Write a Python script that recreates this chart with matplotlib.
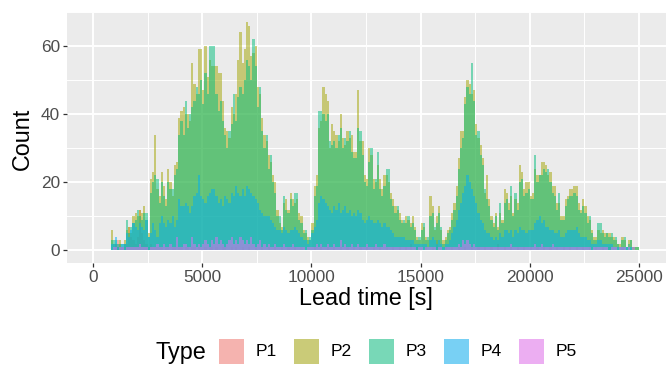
import matplotlib
matplotlib.use("Agg")
import matplotlib.pyplot as plt
import numpy as np
from matplotlib.patches import Rectangle
from matplotlib.ticker import MultipleLocator

plt.rcParams['font.family'] = ['Liberation Sans', 'DejaVu Sans']

# Histogram counts per 100 s bin (0 .. 25000 s), one row per 1000 s
bin_width = 100
types = ["P1", "P2", "P3", "P4", "P5"]
colors = ["#F8766D", "#A3A500", "#00BF7D", "#00B0F6", "#E76BF3"]

p1 = [0, 0, 0, 0, 0, 0, 0, 0, 0, 0,
      2, 3, 2, 1, 2, 2, 7, 4, 3, 2,
      4, 12, 5, 3, 2, 1, 2, 1, 1, 1,
      1, 1, 0, 1, 1, 0, 1, 1, 0, 1,
      1, 0, 1, 1, 0, 1, 1, 0, 1, 0,
      0, 1, 0, 1, 1, 0, 1, 0, 0, 1,
      1, 0, 0, 1, 0, 1, 0, 0, 1, 0,
      0, 1, 0, 0, 1, 0, 0, 1, 0, 0,
      1, 0, 0, 1, 0, 0, 1, 0, 0, 1,
      0, 0, 1, 0, 0, 1, 0, 0, 0, 0,
      0, 1, 0, 0, 1, 0, 0, 1, 0, 0,
      1, 0, 0, 1, 0, 0, 1, 0, 0, 1,
      0, 0, 1, 0, 0, 1, 0, 0, 1, 0,
      0, 1, 0, 0, 1, 0, 0, 1, 0, 0,
      1, 0, 0, 1, 0, 2, 0, 0, 1, 0,
      0, 0, 1, 0, 0, 1, 0, 3, 0, 0,
      0, 1, 0, 0, 1, 0, 0, 1, 0, 0,
      1, 0, 0, 1, 0, 0, 1, 0, 0, 1,
      0, 0, 1, 0, 0, 2, 0, 0, 1, 0,
      0, 1, 0, 0, 1, 0, 0, 1, 0, 0,
      1, 0, 0, 1, 0, 0, 1, 0, 0, 1,
      0, 0, 1, 0, 0, 1, 0, 0, 1, 0,
      0, 1, 0, 0, 1, 0, 0, 1, 0, 0,
      1, 0, 0, 1, 0, 0, 1, 0, 0, 0,
      0, 0, 1, 0, 0, 0, 0, 0, 0, 0]

p2 = [0, 0, 0, 0, 0, 0, 0, 0, 6, 2,
      2, 2, 3, 1, 3, 6, 7, 5, 10, 11,
      10, 12, 11, 13, 9, 5, 21, 23, 34, 18,
      16, 23, 19, 15, 24, 20, 16, 25, 26, 39,
      41, 42, 40, 40, 38, 55, 49, 46, 59, 59,
      47, 60, 51, 56, 54, 54, 54, 52, 52, 44,
      36, 35, 33, 42, 40, 46, 56, 64, 55, 59,
      67, 66, 57, 58, 60, 48, 46, 39, 34, 32,
      28, 26, 22, 20, 12, 8, 7, 14, 15, 12,
      17, 15, 14, 15, 11, 10, 6, 5, 4, 3,
      8, 19, 22, 36, 38, 48, 46, 44, 30, 37,
      35, 34, 32, 40, 33, 31, 35, 33, 34, 29,
      29, 47, 32, 32, 22, 21, 30, 28, 21, 20,
      25, 21, 18, 22, 22, 20, 17, 15, 13, 12,
      11, 9, 8, 10, 9, 8, 10, 7, 4, 3,
      8, 7, 4, 3, 16, 13, 6, 10, 13, 6,
      3, 4, 6, 7, 11, 14, 19, 27, 35, 35,
      45, 50, 49, 46, 47, 37, 33, 31, 27, 17,
      22, 15, 10, 8, 11, 7, 11, 9, 18, 17,
      14, 16, 11, 15, 14, 25, 23, 18, 20, 20,
      16, 17, 24, 22, 22, 26, 26, 25, 22, 23,
      19, 19, 14, 14, 10, 10, 15, 16, 18, 18,
      19, 19, 14, 12, 15, 13, 10, 9, 6, 4,
      4, 6, 5, 6, 5, 5, 5, 4, 4, 3,
      2, 2, 4, 3, 1, 3, 3, 1, 1, 1]

p3 = [0, 0, 0, 0, 0, 0, 0, 0, 3, 3,
      3, 1, 2, 2, 2, 9, 5, 7, 8, 9,
      12, 10, 9, 11, 11, 4, 17, 20, 22, 21,
      14, 20, 16, 13, 20, 18, 18, 22, 24, 34,
      38, 34, 44, 36, 40, 42, 44, 48, 46, 50,
      43, 52, 46, 60, 60, 60, 46, 41, 44, 38,
      34, 30, 35, 37, 46, 38, 45, 48, 46, 50,
      56, 54, 50, 62, 54, 42, 48, 35, 30, 34,
      24, 28, 20, 17, 10, 10, 6, 16, 12, 11,
      15, 13, 17, 17, 9, 8, 5, 6, 3, 4,
      6, 16, 19, 41, 41, 40, 38, 40, 32, 31,
      32, 30, 34, 36, 30, 33, 32, 35, 29, 27,
      27, 36, 35, 28, 20, 19, 26, 30, 18, 21,
      29, 18, 16, 19, 24, 24, 15, 13, 11, 13,
      9, 8, 9, 8, 10, 7, 8, 6, 3, 4,
      6, 8, 3, 4, 10, 11, 7, 8, 11, 7,
      2, 3, 5, 6, 9, 12, 16, 24, 30, 33,
      43, 48, 46, 55, 44, 34, 35, 28, 25, 18,
      15, 13, 9, 7, 10, 6, 14, 8, 14, 15,
      12, 19, 10, 17, 12, 20, 21, 16, 17, 18,
      15, 15, 28, 20, 22, 22, 24, 23, 24, 20,
      17, 16, 12, 17, 9, 9, 13, 15, 16, 16,
      17, 16, 12, 11, 13, 11, 8, 10, 5, 3,
      3, 8, 8, 5, 4, 5, 4, 5, 3, 4,
      2, 1, 3, 4, 1, 2, 3, 1, 1, 1]

p4 = [0, 0, 0, 0, 0, 0, 0, 0, 2, 2,
      4, 2, 1, 2, 2, 5, 4, 6, 8, 7,
      6, 8, 7, 6, 9, 4, 5, 8, 6, 4,
      8, 10, 8, 7, 9, 8, 10, 7, 9, 15,
      13, 13, 14, 13, 11, 13, 16, 17, 22, 16,
      15, 14, 16, 17, 18, 18, 16, 14, 15, 13,
      16, 15, 14, 17, 16, 19, 17, 16, 18, 16,
      19, 18, 17, 16, 15, 14, 12, 11, 10, 10,
      10, 9, 8, 7, 6, 6, 5, 7, 6, 5,
      6, 6, 7, 6, 5, 4, 3, 3, 2, 3,
      5, 7, 9, 14, 16, 15, 14, 13, 12, 11,
      13, 12, 14, 11, 12, 13, 11, 12, 10, 11,
      10, 12, 11, 9, 8, 9, 10, 9, 8, 8,
      9, 8, 7, 8, 7, 7, 6, 5, 4, 4,
      4, 4, 4, 3, 3, 3, 3, 2, 2, 2,
      2, 2, 2, 1, 3, 4, 3, 2, 3, 2,
      1, 2, 2, 3, 5, 7, 9, 12, 14, 17,
      19, 22, 20, 18, 16, 14, 11, 9, 8, 6,
      5, 5, 4, 3, 4, 3, 5, 4, 6, 6,
      5, 6, 4, 6, 5, 7, 6, 6, 5, 6,
      6, 6, 8, 9, 10, 8, 9, 7, 7, 6,
      6, 5, 5, 6, 4, 4, 5, 6, 6, 6,
      6, 7, 5, 4, 4, 4, 3, 3, 2, 2,
      2, 3, 3, 2, 2, 2, 2, 2, 1, 1,
      1, 1, 1, 1, 1, 1, 1, 0, 0, 0]

p5 = [0, 0, 0, 0, 0, 0, 0, 0, 0, 1,
      1, 0, 1, 1, 0, 1, 1, 1, 1, 1,
      1, 2, 1, 1, 1, 0, 1, 1, 1, 2,
      1, 1, 2, 1, 1, 2, 1, 1, 4, 1,
      1, 2, 2, 1, 1, 4, 2, 1, 2, 1,
      2, 3, 2, 1, 3, 2, 4, 2, 3, 2,
      1, 2, 3, 4, 2, 3, 2, 4, 3, 2,
      3, 2, 4, 2, 1, 2, 3, 1, 2, 1,
      2, 1, 1, 2, 1, 1, 1, 2, 1, 1,
      1, 2, 1, 1, 1, 1, 1, 0, 1, 1,
      1, 1, 2, 1, 2, 1, 1, 2, 1, 1,
      2, 1, 1, 3, 1, 2, 1, 1, 2, 1,
      1, 2, 1, 1, 1, 2, 1, 1, 1, 2,
      1, 1, 1, 2, 1, 1, 1, 1, 1, 1,
      1, 1, 1, 1, 1, 1, 1, 1, 0, 1,
      1, 0, 1, 1, 1, 1, 1, 0, 1, 1,
      0, 1, 1, 1, 1, 1, 1, 2, 1, 3,
      2, 3, 2, 1, 2, 1, 1, 1, 1, 1,
      1, 1, 1, 1, 1, 1, 1, 1, 1, 1,
      1, 2, 1, 1, 1, 1, 1, 1, 1, 1,
      1, 1, 2, 1, 1, 2, 1, 1, 1, 1,
      2, 1, 1, 1, 1, 1, 1, 1, 1, 1,
      1, 1, 1, 1, 1, 1, 1, 1, 0, 1,
      1, 1, 1, 1, 1, 1, 0, 1, 1, 1,
      0, 1, 1, 1, 0, 1, 0, 1, 0, 0]

series = [p1, p2, p3, p4, p5]
bin_left = np.arange(len(p1)) * bin_width

W, H = 666, 365
fig = plt.figure(figsize=(W / 100, H / 100), dpi=100)
ax = fig.add_axes([67 / W, 1 - 263 / H, (666 - 67) / W, (263 - 12) / H])
ax.set_facecolor("#EBEBEB")

# overlapping histograms, drawn in type order like ggplot position="identity"
for name, counts, c in zip(types, series, colors):
    ax.bar(bin_left + bin_width / 2, counts, width=bin_width, color=c,
           alpha=0.5, linewidth=0, zorder=2, label=name)

ax.set_xlim(-1193, 26239)
ax.set_ylim(-3.7, 70.0)
ax.xaxis.set_major_locator(MultipleLocator(5000))
ax.xaxis.set_minor_locator(MultipleLocator(2500))
ax.yaxis.set_major_locator(MultipleLocator(20))
ax.yaxis.set_minor_locator(MultipleLocator(10))
ax.grid(which="major", color="white", linewidth=1.4, zorder=0)
ax.grid(which="minor", color="white", linewidth=0.7, zorder=0)
ax.set_axisbelow(True)
for s in ax.spines.values():
    s.set_visible(False)
ax.tick_params(which="major", length=3.2, width=0.9, color="#333333",
               labelsize=12.4, labelcolor="#4D4D4D", pad=2)
ax.tick_params(which="minor", length=0)

fig.text(366 / W, 1 - 299 / H, "Lead time [s]", ha="center", va="center", fontsize=16.8)
fig.text(22 / W, 1 - 139 / H, "Count", ha="center", va="center", fontsize=16.8, rotation=90)

# legend along the bottom
fig.text(155 / W, 1 - 352 / H, "Type", ha="left", va="center", fontsize=16.8)
for i, (name, c) in enumerate(zip(types, colors)):
    x0 = 219 + 75 * i
    fig.add_artist(Rectangle((x0 / W, 1 - 364 / H), 25 / W, 25 / H,
                             transform=fig.transFigure, facecolor="#F2F2F2", edgecolor="none"))
    fig.add_artist(Rectangle((x0 / W, 1 - 364 / H), 25 / W, 25 / H,
                             transform=fig.transFigure, facecolor=c, alpha=0.5, edgecolor="none"))
    fig.text((x0 + 37) / W, 1 - 352 / H, name, ha="left", va="center", fontsize=12.6)

fig.savefig("out.png", dpi=100)
